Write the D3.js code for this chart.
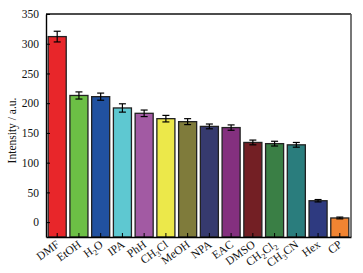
<!DOCTYPE html>
<html>
<head>
<meta charset="utf-8">
<script src="https://cdn.jsdelivr.net/npm/d3@7"></script>
<style>
  body { margin: 0; background: #fff; }
  svg { display: block; font-family: "Liberation Serif", "DejaVu Serif", serif; }
</style>
</head>
<body>
<div id="chart"></div>
<script>
// solvent names: [main, subscript, tail, subscript2]
const solvents = ['DMF', 'EtOH', 'H2O', 'IPA', 'PhH', 'CH3Cl', 'MeOH', 'NPA', 'EAC', 'DMSO', 'CH2Cl2', 'CH3CN', 'Hex', 'CP'];
const intensity = [312, 213, 211, 192, 183, 174, 169, 161, 159, 134, 132, 130, 36, 7];
const errors = [9, 6, 6, 7, 5.5, 5.5, 5, 4, 4.5, 4, 4, 4, 2, 1.5];
const barColors = ['#e8262a', '#6cbf45', '#2151a0', '#5ec8d1', '#a25aa3', '#ece84a', '#7f7b3b',
  '#363a6e', '#84307f', '#731f24', '#3a7f45', '#2a7d7d', '#2e3a80', '#f08432'];
const yTicks = [0, 50, 100, 150, 200, 250, 300, 350];

const width = 363, height = 273;
const margin = { top: 14, right: 12, bottom: 36, left: 46 };
const innerW = width - margin.left - margin.right;
const innerH = height - margin.top - margin.bottom;

const svg = d3.select('#chart').append('svg')
  .attr('width', width).attr('height', height);
const g = svg.append('g').attr('transform', `translate(${margin.left},${margin.top})`);

const x = d3.scaleBand().domain(solvents).range([0, innerW]).paddingInner(0.17).paddingOuter(0.1);
const y = d3.scaleLinear().domain([-25, 350]).range([innerH, 0]);

const data = solvents.map((s, i) => ({ name: s, value: intensity[i], err: errors[i], color: barColors[i] }));

// bars start at the bottom of the frame
g.selectAll('rect.bar').data(data).join('rect')
  .attr('class', 'bar')
  .attr('x', d => x(d.name)).attr('width', x.bandwidth())
  .attr('y', d => y(d.value)).attr('height', d => innerH - y(d.value))
  .attr('fill', d => d.color)
  .attr('stroke', '#222').attr('stroke-width', 1.3);

// error bars
const eb = g.selectAll('g.err').data(data).join('g').attr('class', 'err')
  .attr('transform', d => `translate(${x(d.name) + x.bandwidth() / 2},0)`)
  .attr('stroke', '#000').attr('stroke-width', 1.2);
eb.append('line').attr('y1', d => y(d.value - d.err)).attr('y2', d => y(d.value + d.err));
eb.append('line').attr('x1', -3.5).attr('x2', 3.5).attr('y1', d => y(d.value + d.err)).attr('y2', d => y(d.value + d.err));
eb.append('line').attr('x1', -3.5).attr('x2', 3.5).attr('y1', d => y(d.value - d.err)).attr('y2', d => y(d.value - d.err));

// frame: top and right
g.append('line').attr('x1', 0).attr('x2', innerW).attr('y1', 0).attr('y2', 0)
  .attr('stroke', '#111').attr('stroke-width', 1.3);
g.append('line').attr('x1', innerW).attr('x2', innerW).attr('y1', 0).attr('y2', innerH)
  .attr('stroke', '#555').attr('stroke-width', 1.6);

// y axis, inward ticks
const yAxisG = g.append('g')
  .call(d3.axisLeft(y).tickValues(yTicks).tickSize(-4).tickPadding(7).tickSizeOuter(0));
yAxisG.select('.domain').attr('stroke', '#000').attr('stroke-width', 1.4);
yAxisG.selectAll('.tick line').attr('stroke', '#000').attr('stroke-width', 1);
yAxisG.selectAll('text').attr('font-size', 11.5).attr('fill', '#111')
  .attr('font-family', '"Liberation Serif", serif');

// x axis, inward ticks, rotated labels with subscripts
const xAxisG = g.append('g').attr('transform', `translate(0,${innerH})`)
  .call(d3.axisBottom(x).tickSize(-4).tickSizeOuter(0).tickFormat(''));
xAxisG.select('.domain').attr('stroke', '#000').attr('stroke-width', 1.4);
xAxisG.selectAll('.tick line').attr('stroke', '#000').attr('stroke-width', 1);

const labels = g.append('g').selectAll('text').data(solvents).join('text')
  .attr('text-anchor', 'end')
  .attr('font-size', 11.5).attr('fill', '#111')
  .attr('transform', d => `translate(${x(d) + x.bandwidth() / 2 + 3},${innerH + 9}) rotate(-36)`);
labels.each(function(d) {
  const t = d3.select(this);
  const parts = d.split(/(\d)/).filter(p => p !== '');
  parts.forEach(p => {
    if (/\d/.test(p)) {
      t.append('tspan').attr('font-size', 8).attr('dy', 3).text(p);
      t.append('tspan').attr('dy', -3).text('\u200b');
    } else {
      t.append('tspan').text(p);
    }
  });
});

svg.append('text')
  .attr('transform', `translate(16,${margin.top + innerH / 2 + 5}) rotate(-90)`)
  .attr('text-anchor', 'middle').attr('font-size', 11.5).attr('fill', '#111')
  .text('Intensity / a.u.');
</script>
</body>
</html>
